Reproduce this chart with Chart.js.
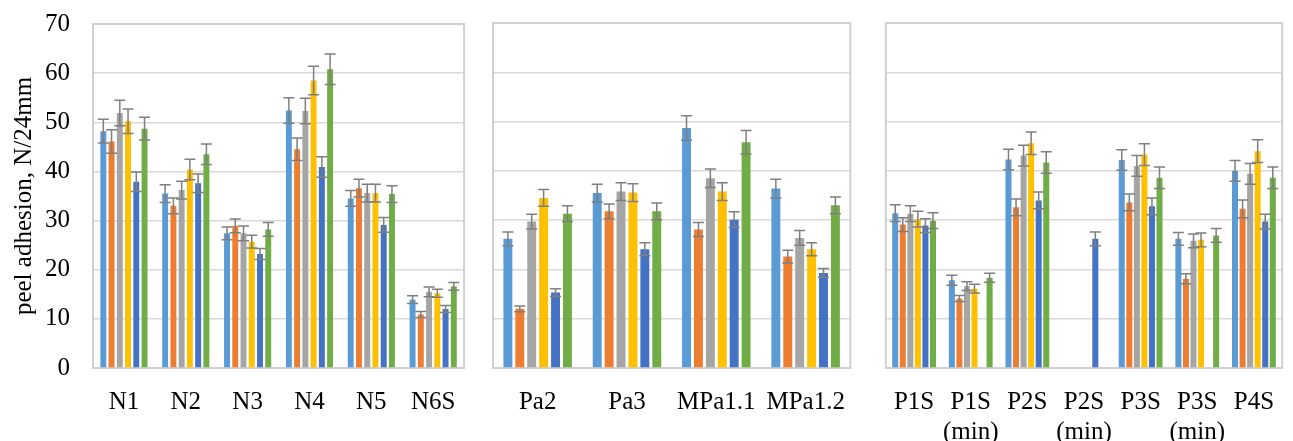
<!DOCTYPE html>
<html>
<head>
<meta charset="utf-8">
<script src="https://cdn.jsdelivr.net/npm/chart.js@4.4.1/dist/chart.umd.min.js"></script>
<style>
  body { margin: 0; background: #fff; }
  #wrap { position: relative; width: 1293px; height: 441px; overflow: hidden; }
  canvas { position: absolute; top: 0; }
</style>
</head>
<body>
<div id="wrap">
  <canvas id="c1" width="475" height="455" style="left:0px; top:-14px"></canvas>
  <canvas id="c2" width="380" height="441" style="left:485px"></canvas>
  <canvas id="c3" width="418" height="441" style="left:875px"></canvas>
</div>

<script>
  // categories, in the order of the three panels
  const nLabels = ["N1", "N2", "N3", "N4", "N5", "N6S"];
  const paLabels = ["Pa2", "Pa3", "MPa1.1", "MPa1.2"];
  const pLabels = ["P1S", ["P1S", "(min)"], "P2S", ["P2S", "(min)"], "P3S", ["P3S", "(min)"], "P4S"];

  // six series, 17 values each (N1..N6S, Pa2..MPa1.2, P1S..P4S)
  const blueVals   = [48.2, 35.5, 27.4, 52.4, 34.5, 13.9, 26.2, 35.5, 48.7, 36.4, 31.4, 17.8, 42.3, null, 42.2, 26.2, 40.0];
  const orangeVals = [46.1, 33.0, 28.9, 44.5, 36.6, 10.9, 12.0, 31.8, 28.1, 22.6, 29.1, 14.1, 32.6, null, 33.6, 18.1, 32.3];
  const grayVals   = [51.9, 36.2, 27.4, 52.3, 35.6, 15.5, 29.7, 35.8, 38.5, 26.4, 31.3, 16.6, 43.1, null, 41.0, 25.8, 39.4];
  const yellowVals = [50.2, 40.4, 25.7, 58.5, 35.6, 15.2, 34.5, 35.6, 35.8, 24.1, 30.2, 16.1, 45.6, null, 43.3, 26.0, 44.0];
  const navyVals   = [37.9, 37.6, 23.2, 40.9, 29.1, 12.0, 15.3, 24.1, 30.1, 19.3, 28.9, null, 34.0, 26.2, 32.8, null, 29.7];
  const greenVals  = [48.7, 43.5, 28.2, 60.8, 35.4, 16.6, 31.3, 31.8, 45.8, 33.0, 29.9, 18.3, 41.7, null, 38.6, 26.9, 38.6];

  // error bars (+/-)
  const blueErr   = [2.4, 1.8, 1.3, 2.6, 1.6, 0.8, 1.4, 1.8, 2.5, 1.9, 1.7, 1.0, 2.1, null, 2.1, 1.3, 2.1];
  const orangeErr = [2.4, 1.6, 1.4, 2.3, 1.8, 0.6, 0.6, 1.5, 1.4, 1.3, 1.4, 0.6, 1.7, null, 1.7, 1.0, 1.8];
  const grayErr   = [2.6, 1.8, 1.5, 2.6, 1.8, 1.0, 1.5, 1.8, 1.9, 1.5, 1.6, 0.9, 2.1, null, 2.1, 1.4, 2.1];
  const yellowErr = [2.5, 2.1, 1.3, 2.9, 1.8, 0.8, 1.7, 1.8, 1.8, 1.3, 1.6, 0.9, 2.3, null, 2.2, 1.4, 2.3];
  const navyErr   = [2.0, 1.9, 1.1, 2.1, 1.5, 0.7, 0.8, 1.3, 1.6, 0.9, 1.4, null, 1.7, 1.4, 1.7, null, 1.5];
  const greenErr  = [2.3, 2.1, 1.4, 3.1, 1.7, 0.8, 1.6, 1.7, 2.4, 1.7, 1.6, 0.9, 2.2, null, 2.2, 1.4, 2.2];

  const yTicks = [0, 10, 20, 30, 40, 50, 60, 70];

  const seriesVals = [blueVals, orangeVals, grayVals, yellowVals, navyVals, greenVals];
  const seriesErr = [blueErr, orangeErr, grayErr, yellowErr, navyErr, greenErr];
  const colors = ["#5B9BD5", "#ED7D31", "#A5A5A5", "#FFC000", "#4472C4", "#70AD47"];

  Chart.defaults.font.family = "'Liberation Serif', 'Times New Roman', serif";
  Chart.defaults.font.size = 25;
  Chart.defaults.color = "#000";

  const errorBars = {
    id: "errorBars",
    afterDatasetsDraw(chart) {
      const ctx = chart.ctx;
      const y = chart.scales.y;
      ctx.save();
      ctx.strokeStyle = "#7f7f7f";
      ctx.lineWidth = 1.5;
      chart.data.datasets.forEach((ds, i) => {
        const meta = chart.getDatasetMeta(i);
        meta.data.forEach((bar, j) => {
          const v = ds.data[j], e = ds.errors[j];
          if (v == null || e == null) return;
          const t = y.getPixelForValue(v + e), b = y.getPixelForValue(v - e);
          const x = bar.x;
          ctx.beginPath();
          ctx.moveTo(x, t); ctx.lineTo(x, b);
          ctx.moveTo(x - 5.5, t); ctx.lineTo(x + 5.5, t);
          ctx.moveTo(x - 5.5, b); ctx.lineTo(x + 5.5, b);
          ctx.stroke();
        });
      });
      ctx.restore();
    }
  };

  const frame = {
    id: "frame",
    beforeDatasetsDraw(chart) {
      const a = chart.chartArea, ctx = chart.ctx;
      ctx.save();
      ctx.strokeStyle = "#d0d0d0";
      ctx.lineWidth = 2;
      ctx.strokeRect(a.left, a.top, a.right - a.left, a.bottom - a.top);
      ctx.restore();
    }
  };

  function makeChart(id, labels, start, showY, padding, barPct) {
    const datasets = seriesVals.map((vals, i) => ({
      data: vals.slice(start, start + labels.length),
      errors: seriesErr[i].slice(start, start + labels.length),
      backgroundColor: colors[i],
      categoryPercentage: 0.8,
      barPercentage: barPct
    }));

    new Chart(id, {
      type: "bar",
      data: { labels: labels, datasets: datasets },
      plugins: [frame, errorBars],
      options: {
        responsive: false,
        animation: false,
        layout: { padding: padding },
        plugins: { legend: { display: false }, tooltip: { enabled: false } },
        scales: {
          x: {
            grid: { display: false, drawTicks: false },
            border: { display: false },
            ticks: { padding: 19, maxRotation: 0, autoSkip: false },
            afterFit(s) { s.height = 73; }
          },
          y: {
            min: 0, max: 70,
            afterBuildTicks(s) { s.ticks = yTicks.map(v => ({ value: v })); },
            grid: { color: "#d9d9d9", lineWidth: 1.5, drawTicks: false },
            border: { display: false },
            ticks: { display: showY, padding: 23 },
            title: { display: showY, text: "peel adhesion, N/24mm", padding: 0 },
            afterFit(s) { s.width = showY ? 84 : 0; }
          }
        }
      }
    });
  }

  makeChart("c1", nLabels, 0, true, { left: 9, right: 7, top: 8, bottom: 0 }, 0.72);
  makeChart("c2", paLabels, 6, false, { left: 8, right: 9, top: 23, bottom: 0 }, 0.75);
  makeChart("c3", pLabels, 10, false, { left: 8, right: 2, top: 23, bottom: 0 }, 0.8);
</script>
</body>
</html>
